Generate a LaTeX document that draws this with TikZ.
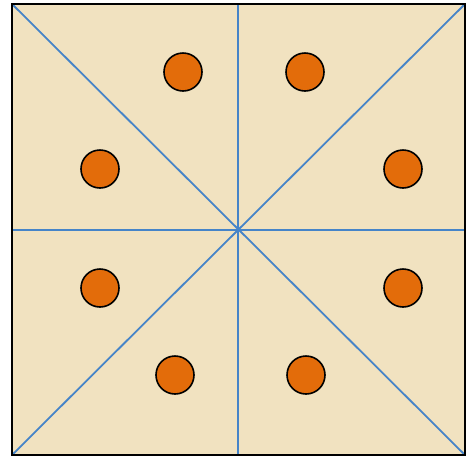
\documentclass[tikz,border=0pt]{standalone}
\definecolor{paper}{RGB}{241,226,192}
\definecolor{lineblue}{RGB}{70,132,200}
\definecolor{dotorange}{RGB}{227,108,10}
\tikzset{
  dot/.style={circle,draw=black,line width=1.6pt,fill=dotorange,minimum size=38pt,inner sep=0pt},
  guide/.style={draw=lineblue,line width=1.8pt}
}
\begin{document}
\begin{tikzpicture}[x=1pt,y=-1pt]
\useasboundingbox (0,0) rectangle (466,459);
\fill[paper] (12,4) rectangle (465,455);
\coordinate (tl) at (12,4);
\coordinate (tr) at (465,4);
\coordinate (bl) at (12,455);
\coordinate (br) at (465,455);
\coordinate (tm) at (238,4);
\coordinate (bm) at (238,455);
\coordinate (lm) at (12,230);
\coordinate (rm) at (465,230);
\draw[guide] (tl) -- (br);
\draw[guide] (tr) -- (bl);
\draw[guide] (tm) -- (bm);
\draw[guide] (lm) -- (rm);
\draw[black,line width=2.2pt] (tl) rectangle (br);
\node[dot] (c1) at (183,72) {};
\node[dot] (c2) at (305,72) {};
\node[dot] (c3) at (100,169) {};
\node[dot] (c4) at (403,169) {};
\node[dot] (c5) at (100,288) {};
\node[dot] (c6) at (403,288) {};
\node[dot] (c7) at (175,375) {};
\node[dot] (c8) at (306,375) {};
\end{tikzpicture}
\end{document}
